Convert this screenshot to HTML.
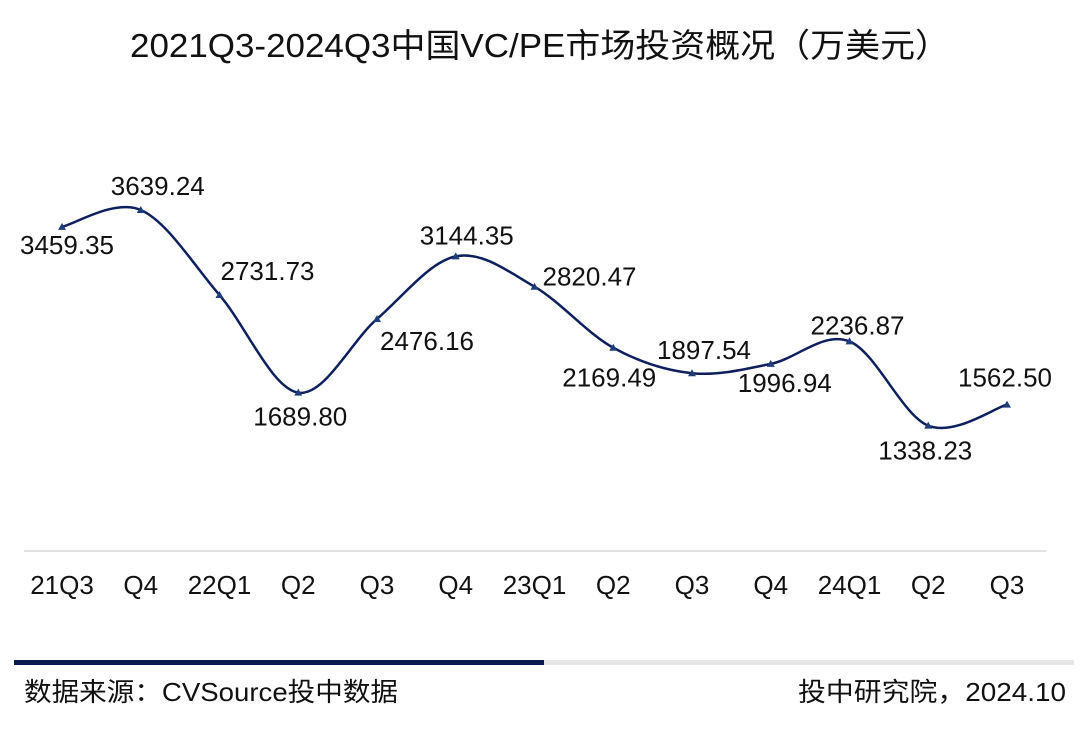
<!DOCTYPE html>
<html><head><meta charset="utf-8"><style>
html,body{margin:0;padding:0;background:#fff;width:1080px;height:740px;overflow:hidden}
svg text{font-family:"Liberation Sans","Noto Sans CJK SC",sans-serif;fill:#111}
</style></head><body>
<svg id="chart" width="1080" height="740" viewBox="0 0 1080 740">
<text x="540" y="57" text-anchor="middle" font-size="33" textLength="820" lengthAdjust="spacingAndGlyphs">2021Q3-2024Q3中国VC/PE市场投资概况（万美元）</text>
<line x1="24" y1="551" x2="1046" y2="551" stroke="#d9d9d9" stroke-width="1.5"/>
<g id="ticks"></g>
<path id="line" fill="none" stroke="#0d1f5c" stroke-width="2.5"/>
<g id="marks"></g>
<g id="labels"></g>
<rect x="14" y="660" width="530" height="5" fill="#0b1a4d"/>
<rect x="544" y="660" width="530" height="5" fill="#e6e6e6"/>
<text x="24" y="701" font-size="26" textLength="374" lengthAdjust="spacingAndGlyphs">数据来源：CVSource投中数据</text>
<text x="1066" y="701" font-size="26" text-anchor="end" textLength="268" lengthAdjust="spacingAndGlyphs">投中研究院，2024.10</text>
</svg>
<script>
const categories=["21Q3","Q4","22Q1","Q2","Q3","Q4","23Q1","Q2","Q3","Q4","24Q1","Q2","Q3"];
const values=[3459.35,3639.24,2731.73,1689.80,2476.16,3144.35,2820.47,2169.49,1897.54,1996.94,2236.87,1338.23,1562.50];
const valueLabels=["3459.35","3639.24","2731.73","1689.80","2476.16","3144.35","2820.47","2169.49","1897.54","1996.94","2236.87","1338.23","1562.50"];
const labelOffsets=[[5,18],[17,-24],[48,-24],[2,24],[50,22],[11,-21],[55,-10],[-4,30],[12,-23],[14,19],[8,-16],[-3,25],[-2,-27]];
const NS="http://www.w3.org/2000/svg";
function xPos(i){return 62+i*78.75;}
function yPos(v){return 551-v*0.0937;}
const pts=values.map((v,i)=>[xPos(i),yPos(v)]);
const tg=document.getElementById('ticks'),mg=document.getElementById('marks'),lg=document.getElementById('labels');
categories.forEach((c,i)=>{
 const t=document.createElementNS(NS,'text');
 
 
 t.setAttribute('x',xPos(i));t.setAttribute('y',594);t.setAttribute('text-anchor','middle');t.setAttribute('font-size','26');
 t.textContent=c;tg.appendChild(t);
});
let d='M'+pts[0][0]+','+pts[0][1];
for(let i=0;i<pts.length-1;i++){
 const p0=pts[Math.max(i-1,0)],p1=pts[i],p2=pts[i+1],p3=pts[Math.min(i+2,pts.length-1)];
 const k=6;
 d+=' C'+(p1[0]+(p2[0]-p0[0])/k)+','+(p1[1]+(p2[1]-p0[1])/k)+' '+(p2[0]-(p3[0]-p1[0])/k)+','+(p2[1]-(p3[1]-p1[1])/k)+' '+p2[0]+','+p2[1];
}
document.getElementById('line').setAttribute('d',d);
pts.forEach((p,i)=>{
 const m=document.createElementNS(NS,'polygon');
 
 
 m.setAttribute('points',(p[0])+','+(p[1]-4)+' '+(p[0]-4)+','+(p[1]+3)+' '+(p[0]+4)+','+(p[1]+3));
 m.setAttribute('fill','#1f3d7a');mg.appendChild(m);
 const t=document.createElementNS(NS,'text');
 
 
 t.setAttribute('x',p[0]+labelOffsets[i][0]);t.setAttribute('y',p[1]+labelOffsets[i][1]+9);
 t.setAttribute('text-anchor','middle');t.setAttribute('font-size','26');
 t.textContent=valueLabels[i];lg.appendChild(t);
});
</script>
</body></html>
